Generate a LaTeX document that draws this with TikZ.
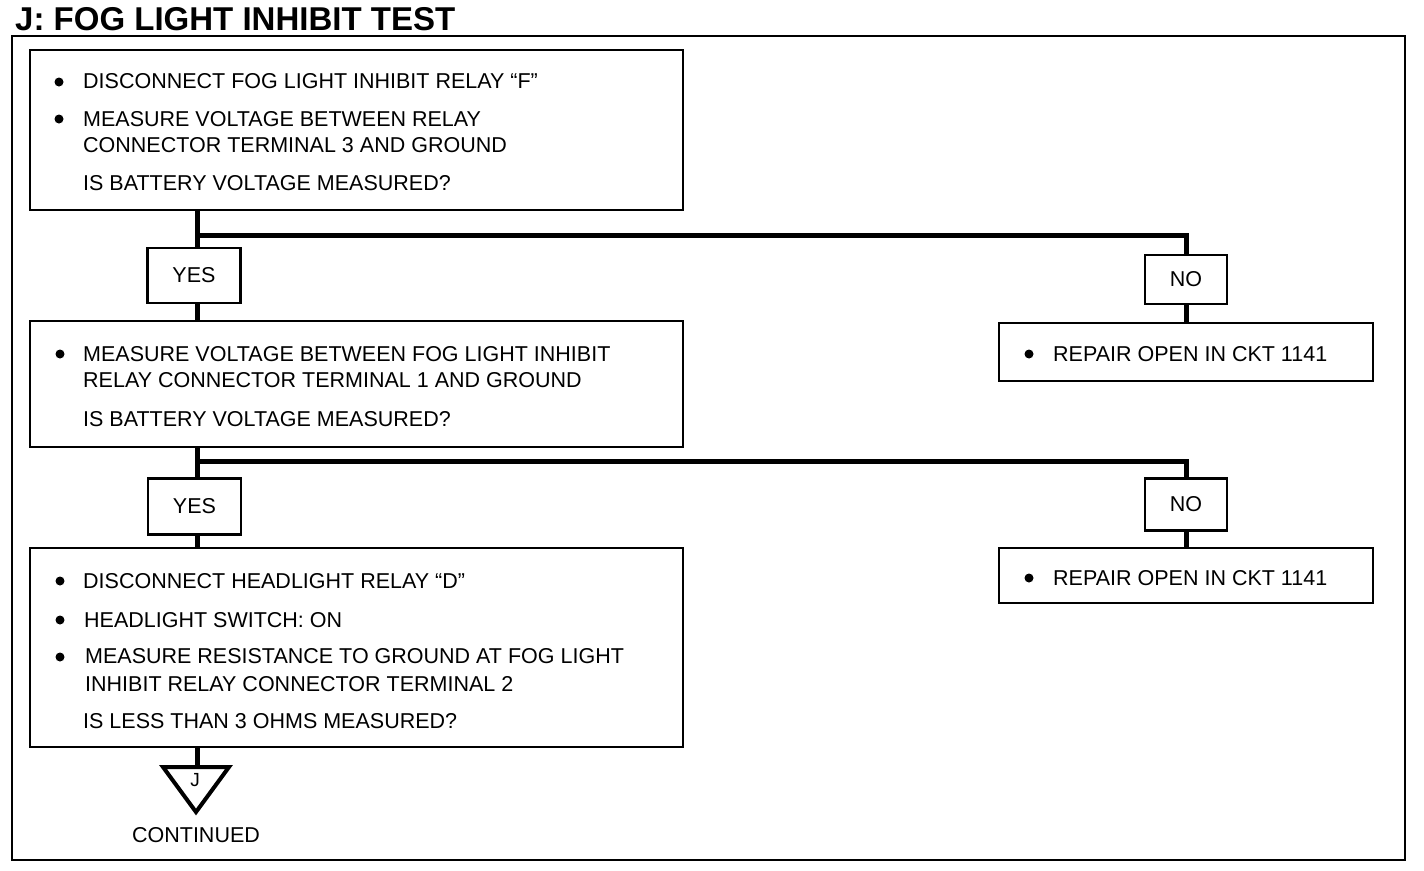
\documentclass[tikz,border=0pt]{standalone}
\usepackage{fontspec}
\setmainfont{Liberation Sans}
\begin{document}
\begin{tikzpicture}[x=1pt,y=-1pt,
  stepbox/.style={draw,line width=2.8pt,inner sep=0pt,minimum width=653},
  ansbox/.style={draw,line width=2.8pt,inner sep=0pt,font=\fontsize{21.5}{24}\selectfont},
  txt/.style={anchor=base west,inner sep=0pt,font=\fontsize{21.5}{24}\selectfont},
  wire/.style={line width=5pt,line join=miter}]
\path[use as bounding box] (0,0) rectangle (1424,870);
\node[anchor=base west,inner sep=0pt,font=\bfseries\fontsize{33}{36}\selectfont] (title) at (15,30) {J: FOG LIGHT INHIBIT TEST};
\draw[line width=2.5pt] (12,36) rectangle (1405,860);

% step boxes
\node[stepbox,minimum height=160] (box1) at (356.5,130) {};
\node[stepbox,minimum height=126] (box2) at (356.5,384) {};
\node[stepbox,minimum height=199] (box3) at (356.5,647.5) {};

% answers
\node[ansbox,minimum width=93,minimum height=55] (yes1) at (194,275.5) {YES};
\node[ansbox,minimum width=93,minimum height=56] (yes2) at (194.5,506.5) {YES};
\node[ansbox,minimum width=82,minimum height=49] (no1) at (1186,279.5) {NO};
\node[ansbox,minimum width=82,minimum height=52] (no2) at (1186,504.5) {NO};
\node[ansbox,minimum width=374,minimum height=58] (fix1) at (1186,352) {};
\node[ansbox,minimum width=374,minimum height=55] (fix2) at (1186,575.5) {};

% texts of box 1
\fill (59,82) circle[radius=4.5];
\node[txt] (b1a) at (83,88) {DISCONNECT FOG LIGHT INHIBIT RELAY “F”};
\fill (59,119) circle[radius=4.5];
\node[txt] (b1b) at (83,126) {MEASURE VOLTAGE BETWEEN RELAY};
\node[txt] (b1c) at (83,152) {CONNECTOR TERMINAL 3 AND GROUND};
\node[txt] (b1d) at (83,190) {IS BATTERY VOLTAGE MEASURED?};

% texts of box 2
\fill (60,354) circle[radius=4.5];
\node[txt] (b2a) at (83,361) {MEASURE VOLTAGE BETWEEN FOG LIGHT INHIBIT};
\node[txt] (b2b) at (83,387) {RELAY CONNECTOR TERMINAL 1 AND GROUND};
\node[txt] (b2c) at (83,426) {IS BATTERY VOLTAGE MEASURED?};

% texts of box 3
\fill (60,581) circle[radius=4.5];
\node[txt] (b3a) at (83,588) {DISCONNECT HEADLIGHT RELAY “D”};
\fill (60,620) circle[radius=4.5];
\node[txt] (b3b) at (84,627) {HEADLIGHT SWITCH: ON};
\fill (60,657) circle[radius=4.5];
\node[txt] (b3c) at (85,663) {MEASURE RESISTANCE TO GROUND AT FOG LIGHT};
\node[txt] (b3d) at (85,691) {INHIBIT RELAY CONNECTOR TERMINAL 2};
\node[txt] (b3e) at (83,728) {IS LESS THAN 3 OHMS MEASURED?};

% repair texts
\fill (1029,354) circle[radius=4.5];
\node[txt] (f1) at (1053,361) {REPAIR OPEN IN CKT 1141};
\fill (1029,578) circle[radius=4.5];
\node[txt] (f2) at (1053,585) {REPAIR OPEN IN CKT 1141};

% connectors
\coordinate (br1) at (197,235);
\coordinate (br2) at (197,461);
\draw[wire] (box1.south -| br1) -- (br1 |- yes1.north);
\draw[wire] (br1) -| (no1.north);
\draw[wire] (br1 |- yes1.south) -- (br1 |- box2.north);
\draw[wire] (no1.south) -- (fix1.north);
\draw[wire] (box2.south -| br2) -- (br2 |- yes2.north);
\draw[wire] (br2) -| (no2.north);
\draw[wire] (br2 |- yes2.south) -- (br2 |- box3.north);
\draw[wire] (no2.south) -- (fix2.north);

% continued mark
\coordinate (cont) at (197,767);
\draw[wire] (box3.south -| cont) -- (cont);
\draw[line width=4pt,line join=miter] (163,767) -- (229,767) -- (196,812) -- cycle;
\node[inner sep=0pt,font=\fontsize{19}{20}\selectfont] (jmark) at (195,780) {J};
\node[txt,anchor=base] (contlbl) at (196,842) {CONTINUED};
\end{tikzpicture}
\end{document}
